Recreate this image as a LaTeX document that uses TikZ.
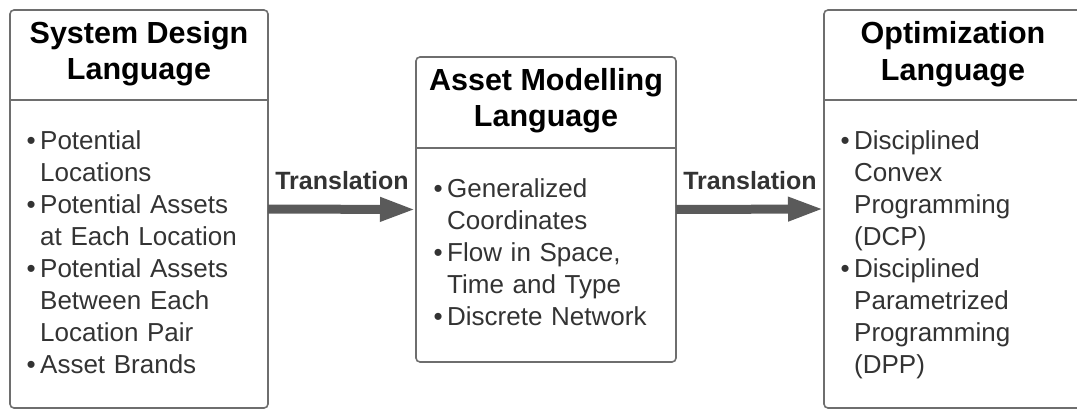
\documentclass[tikz,border=0pt]{standalone}
\usepackage{fontspec}
\setmainfont{Liberation Sans}
\usepackage{xcolor}
\usetikzlibrary{positioning,arrows.meta}
\definecolor{edgegray}{HTML}{6E6E6E}
\definecolor{txtgray}{HTML}{333333}
\definecolor{arrgray}{HTML}{5A5A5A}
\newcommand{\bitem}[1]{\par\hangindent=18pt\hangafter=1\noindent\makebox[18pt][c]{\textbullet}#1}
\tikzset{
  box/.style={draw=edgegray, line width=1.6pt, rounded corners=4pt, anchor=north west, inner sep=0pt, outer sep=0pt},
  sep/.style={draw=edgegray, line width=1.6pt},
  ttl/.style={font=\fontsize{30.5}{36.5}\selectfont\bfseries, align=center, inner sep=0pt},
  lst/.style={font=\fontsize{26}{32}\selectfont, text=txtgray, text width=240pt, align=left, anchor=north west, inner sep=0pt},
  flow/.style={draw=arrgray, line width=9pt, -{Triangle[length=36pt,width=22pt]}},
  lbl/.style={font=\fontsize{25}{30}\selectfont\bfseries, text=txtgray, inner sep=0pt}
}

\begin{document}
\begin{tikzpicture}[x=1pt, y=-1pt]
  \useasboundingbox (0,0) rectangle (1077,410);
  % the three boxes
  \node[box, minimum width=258pt, minimum height=398pt] (sdl) at (10,10) {};
  \node[box, minimum width=260pt, minimum height=305pt] (aml) at (416,57) {};
  \node[box, minimum width=258pt, minimum height=398pt] (ol) at (824,10) {};
  \draw[sep] ([yshift=-90pt]sdl.north west) -- ([yshift=-90pt]sdl.north east);
  \draw[sep] ([yshift=-91pt]aml.north west) -- ([yshift=-91pt]aml.north east);
  \draw[sep] ([yshift=-90pt]ol.north west) -- ([yshift=-90pt]ol.north east);
  % headers
  \node[ttl] (sdlt) at (139,53.5) {System Design\\Language};
  \node[ttl] (amlt) at (546,100.5) {Asset Modelling\\Language};
  \node[ttl] (olt) at (953,54) {Optimization\\Language};
  % bullet lists
  \node[lst] (sdlb) at (22,117.5) {%
    \bitem{Potential\newline Locations}
    \bitem{Potential Assets\newline at Each Location}
    \bitem{Potential Assets\newline Between Each\newline Location Pair}
    \bitem{Asset Brands}\par};
  \node[lst] (amlb) at (429,165) {%
    \bitem{Generalized\newline Coordinates}
    \bitem{Flow in Space,\newline Time and Type}
    \bitem{Discrete Network}\par};
  \node[lst] (olb) at (836,117) {%
    \bitem{Disciplined\newline Convex\newline Programming\newline (DCP)}
    \bitem{Disciplined\newline Parametrized\newline Programming\newline (DPP)}\par};
  % translations
  \draw[flow] (sdl.east) -- node[lbl, above=15pt] {Translation} (aml.west);
  \draw[flow] (aml.east) -- node[lbl, above=15pt] {Translation} (ol.west);
\end{tikzpicture}
\end{document}
